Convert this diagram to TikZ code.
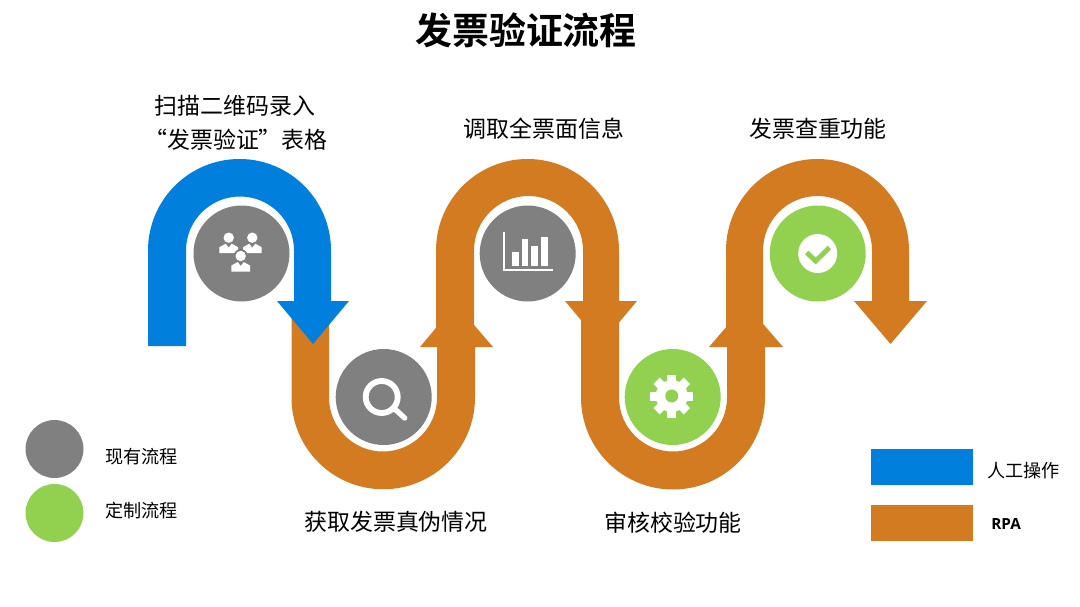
\documentclass[tikz,border=0pt]{standalone}
\usepackage{fontspec}
\setmainfont{Open Sans}
\newfontfamily\cjk{Noto Sans CJK SC}
\newfontfamily\cjkb{Noto Sans CJK SC Bold}
\definecolor{bandblue}{HTML}{0080DC}
\definecolor{bandorange}{HTML}{D27B20}
\definecolor{dotgray}{HTML}{808080}
\definecolor{dotgreen}{HTML}{92D050}
\tikzset{
  px/.style={x=0.75pt,y=-0.75pt},
  lbl/.style={font=\cjk\fontsize{17.2pt}{20pt}\selectfont,text=black,inner sep=0pt,align=center},
  leg/.style={font=\cjk\fontsize{13.6pt}{15pt}\selectfont,text=black,inner sep=0pt,anchor=west},
  dot/.style={circle,inner sep=0pt,minimum size=72pt,fill=#1},
  legdot/.style={circle,inner sep=0pt,minimum size=43.5pt,fill=#1},
  legbox/.style={rectangle,inner sep=0pt,minimum width=76.5pt,minimum height=27pt,fill=#1},
  ico/.style={fill=white,draw=none},
}
\begin{document}
\begin{tikzpicture}[px]
\useasboundingbox (0,0) rectangle (1080,606);
% orange bands
\fill[bandorange] (291.5,301) -- (329,301) -- (329,397.5) arc[start angle=180,end angle=0,radius=54] -- (437,347) -- (420,347) -- (456,304) -- (493,347) -- (475,347) -- (475,397.5) arc[start angle=0,end angle=180,radius=91.75] -- cycle;
\fill[bandorange] (436,347) -- (436,250.5) arc[start angle=180,end angle=360,radius=91.5] -- (619,301) -- (637,301) -- (601,344) -- (565,301) -- (583,301) -- (583,250.5) arc[start angle=360,end angle=180,radius=54.5] -- (474,347) -- cycle;
\fill[bandorange] (581,301) -- (619,301) -- (619,397.5) arc[start angle=180,end angle=0,radius=54] -- (727,347) -- (709,347) -- (746,304) -- (783,347) -- (765,347) -- (765,397.5) arc[start angle=0,end angle=180,radius=92] -- cycle;
\fill[bandorange] (726,347) -- (726,250.5) arc[start angle=180,end angle=360,radius=91.5] -- (909,301) -- (927,301) -- (890.5,344) -- (854,301) -- (872,301) -- (872,250.5) arc[start angle=360,end angle=180,radius=54.5] -- (763,347) -- cycle;
% blue band
\fill[bandblue] (148,346) -- (148,250.5) arc[start angle=180,end angle=360,radius=91.5] -- (331,301) -- (349,301) -- (313,344) -- (277,301) -- (294,301) -- (294,250.5) arc[start angle=360,end angle=180,radius=54] -- (186,346) -- cycle;
% circles
\node[dot=dotgray] (c1) at (241.5,253.5) {};
\node[dot=dotgray] (c2) at (383.7,397) {};
\node[dot=dotgray] (c3) at (527.7,253.5) {};
\node[dot=dotgreen] (c4) at (672.7,397) {};
\node[dot=dotgreen] (c5) at (817.7,253.5) {};
% people icon
\foreach \hx/\hy in {228.7/237.7,252.3/237.7,240.7/256}{
  \begin{scope}[shift={(\hx,\hy)}]
    \fill[dotgray] (0,0) circle[radius=7];
    \fill[ico] (0,0) circle[radius=5.2];
    \fill[ico] (-9.3,15.5) -- (-9.3,9.5) -- (-3,6) -- (0,10) -- (3,6) -- (9.3,9.5) -- (9.3,15.5) -- cycle;
  \end{scope}}
% magnifier
\begin{scope}[shift={(c2.center)}]
  \draw[white,line width=4.4pt] (-2,0) circle[radius=16];
  \draw[white,line width=4pt,line cap=round] (10,11) -- (21,21);
\end{scope}
% chart icon
\begin{scope}[shift={(c3.center)}]
  \draw[white,line width=1.9pt] (-23.7,-21.5) -- (-23.7,16.5) -- (25.3,16.5);
  \fill[ico] (-15.7,-1.5) rectangle (-9,12.2);
  \fill[ico] (-6,-14.5) rectangle (0,12.2);
  \fill[ico] (3.3,-7.8) rectangle (10,12.2);
  \fill[ico] (13.3,-16.8) rectangle (20,12.2);
\end{scope}
% gear
\begin{scope}[shift={(c4.center)},xshift=-0.75pt,yshift=0.75pt]
  \foreach \a in {0,45,...,315}{
    \fill[white,rotate=\a] (-4.5,-21.5) rectangle (4.5,-12);}
  \fill[white] (0,0) circle[radius=16];
  \fill[dotgreen] (0,0) circle[radius=6.5];
\end{scope}
% check
\begin{scope}[shift={(c5.center)}]
  \fill[white] (0,0) circle[radius=19.5];
  \draw[dotgreen,line width=3.7pt] (-11,-1) -- (-2,7.5) -- (11.6,-6);
\end{scope}
% title
\node[font=\cjkb\fontsize{27.7pt}{32pt}\selectfont,inner sep=0pt] (title) at (526,30) {发票验证流程};
% step labels
\node[lbl] (l1a) at (235,106) {扫描二维码录入};
\node[lbl] (l1b) at (236,140) {“发票验证”表格};
\node[lbl] (l2) at (544,129) {调取全票面信息};
\node[lbl] (l3) at (818,129) {发票查重功能};
\node[lbl] (l4) at (396,522) {获取发票真伪情况};
\node[lbl] (l5) at (673,523) {审核校验功能};
% legend
\node[legdot=dotgray] (lg1) at (54.5,449) {};
\node[legdot=dotgreen] (lg2) at (54.5,513) {};
\node[leg] (lt1) at (105,457) {现有流程};
\node[leg] (lt2) at (105,511) {定制流程};
\node[legbox=bandblue] (lb1) at (922,467) {};
\node[legbox=bandorange] (lb2) at (922,523) {};
\node[leg] (lt3) at (987,471) {人工操作};
\node[leg,font=\bfseries\fontsize{11.5pt}{14pt}\selectfont] (lt4) at (991,524) {RPA};
\end{tikzpicture}
\end{document}
